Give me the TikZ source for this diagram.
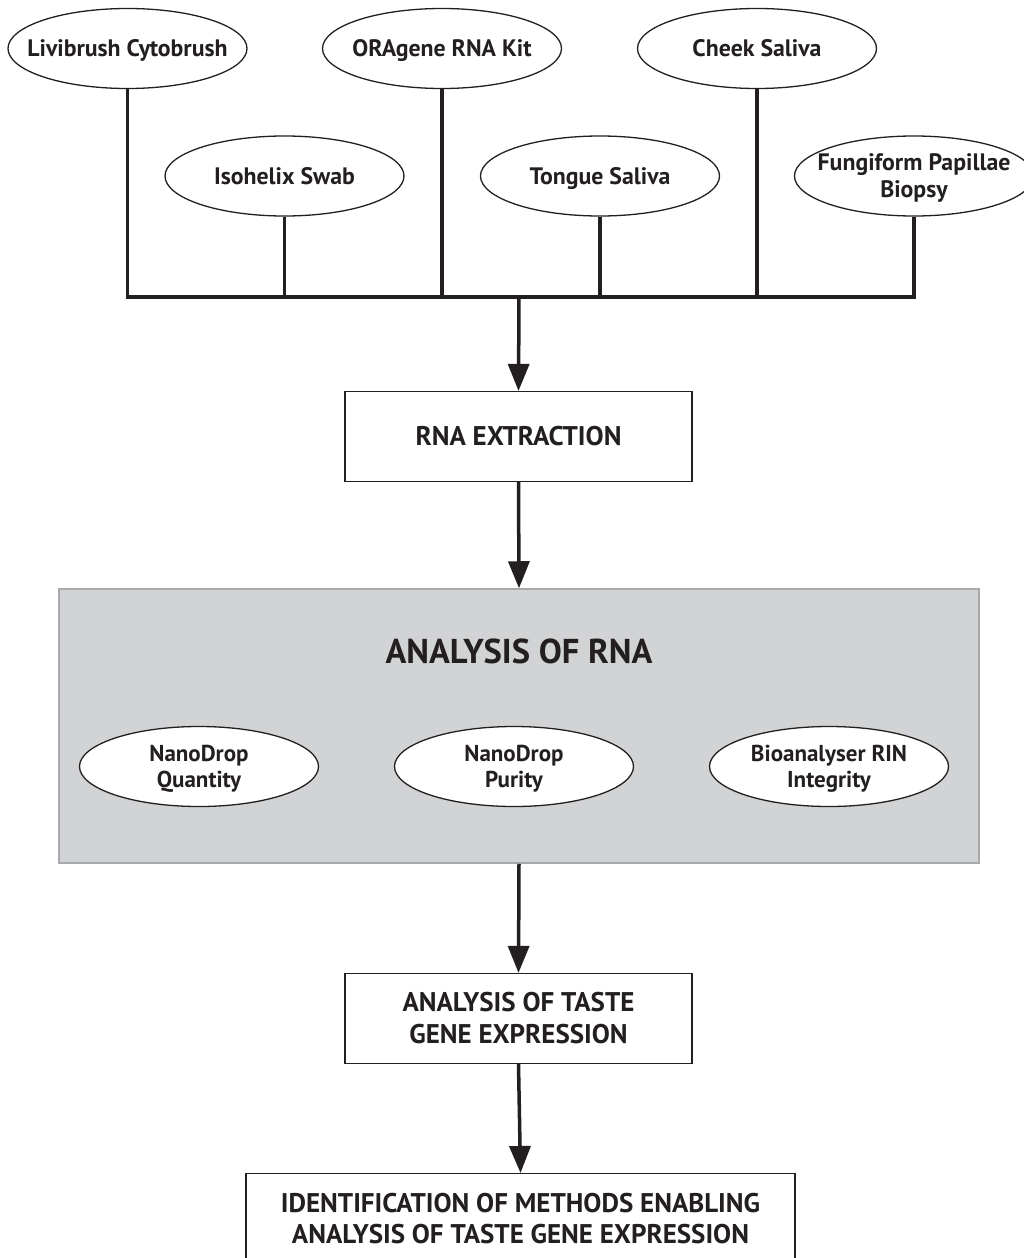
\documentclass[tikz,border=0pt]{standalone}
\usepackage{fontspec}
\setmainfont{PT Sans}
\usetikzlibrary{shapes.geometric,arrows.meta}
\definecolor{ink}{HTML}{231F20}
\definecolor{panelfill}{HTML}{D2D3D5}
\definecolor{panelline}{HTML}{A7A9AC}
\begin{document}
\begin{tikzpicture}[x=1pt,y=-1pt,
  src/.style={ellipse, draw=ink, line width=1.3pt, fill=white,
    minimum width=239pt, minimum height=80pt, inner sep=-40pt, text depth=0pt,
    align=center, text=ink, font=\bfseries\fontsize{23.8}{27}\selectfont},
  meas/.style={src, font=\bfseries\fontsize{23}{26}\selectfont},
  stepbox/.style={rectangle, draw=ink, line width=1.2pt, fill=white,
    minimum width=347pt, minimum height=90pt, inner sep=0pt,
    align=center, text=ink, font=\bfseries\fontsize{27}{32}\selectfont},
  conn/.style={draw=ink, line width=3.5pt},
  arr/.style={conn, -{Triangle[length=27pt,width=21pt]}},
  txt/.style={inner sep=0pt, align=center, text=ink}]
\useasboundingbox (0,0) rectangle (1024,1258);
\clip (0,0) rectangle (1024,1258);

% sources
\node[src] (livi) at (127.5,48.5) {Livibrush Cytobrush};
\node[src] (ora) at (442,48.5) {ORAgene RNA Kit};
\node[src] (cheek) at (757,48.5) {Cheek Saliva};
\node[src] (iso) at (284.5,176) {Isohelix Swab};
\node[src] (tongue) at (600,176) {Tongue Saliva};
\node[src] (fung) at (914,176) {Fungiform Papillae\\Biopsy};

\coordinate (bus) at (519,297);

% boxes
\node[stepbox] (rna) at (518.5,436.5) {RNA EXTRACTION};
\node[rectangle, draw=panelline, fill=panelfill, line width=1.5pt,
  minimum width=920pt, minimum height=274pt, inner sep=0pt] (panel) at (519,726) {};
\node[txt, font=\bfseries\fontsize{34.5}{38}\selectfont] (ptitle) at (519,651) {ANALYSIS OF RNA};
\node[meas] (quant) at (199,766.5) {NanoDrop\\Quantity};
\node[meas] (purity) at (514,766.5) {NanoDrop\\Purity};
\node[meas] (rin) at (829,766.5) {Bioanalyser RIN\\Integrity};
\node[stepbox] (taste) at (518.5,1018.5) {ANALYSIS OF TASTE\\GENE EXPRESSION};
\node[rectangle, draw=ink, line width=1.2pt, fill=white,
  minimum width=549pt, minimum height=110pt, inner sep=0pt, anchor=north] (ident) at (520.5,1173) {};
\node[txt, font=\bfseries\fontsize{27}{31}\selectfont] (identt) at (520.5,1219) {IDENTIFICATION OF METHODS ENABLING\\ANALYSIS OF TASTE GENE EXPRESSION};

% connectors
\draw[conn, line join=miter] (livi.south) -- (livi.south |- bus) -| (fung.south);
\draw[conn] (iso.south) -- (iso.south |- bus);
\draw[conn] (ora.south) -- (ora.south |- bus);
\draw[conn] (tongue.south) -- (tongue.south |- bus);
\draw[conn] (cheek.south) -- (cheek.south |- bus);
\draw[arr] (bus) -- (rna.north);
\draw[arr] (rna.south) -- (panel.north);
\draw[arr] (panel.south) -- (taste.north);
\draw[arr] (taste.south) -- (ident.north);
\end{tikzpicture}
\end{document}
